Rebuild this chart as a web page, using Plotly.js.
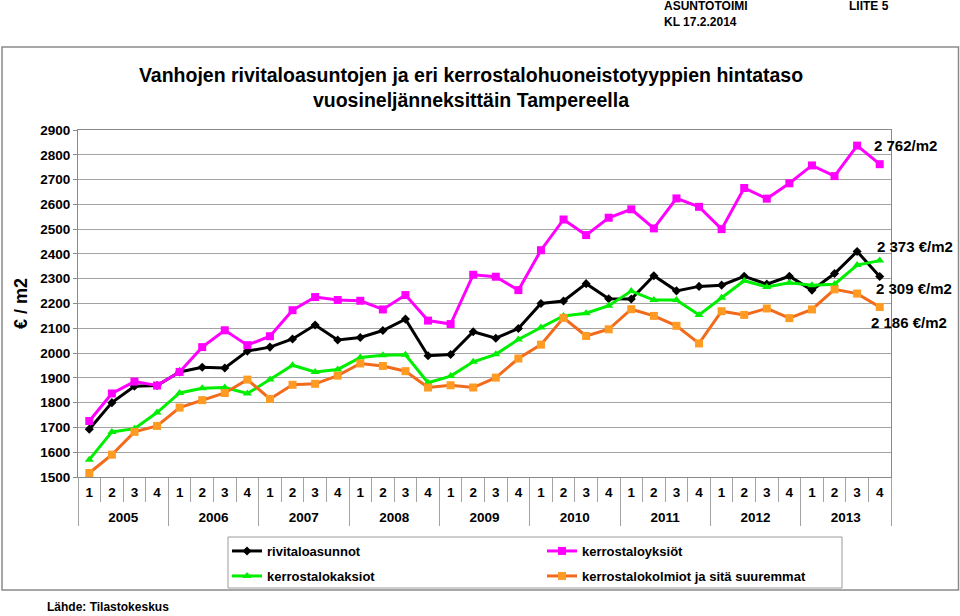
<!DOCTYPE html>
<html>
<head>
<meta charset="utf-8">
<script src="https://cdn.plot.ly/plotly-3.0.1.min.js"></script>
<style>
  html, body { margin: 0; padding: 0; background: #fff; }
  #chart { width: 960px; height: 616px; }
</style>
</head>
<body>
<div id="chart"></div>
<script>
// ---- data ----
const years = ['2005','2006','2007','2008','2009','2010','2011','2012','2013'];
const quarters = ['1','2','3','4'];
const seriesNames = ['rivitaloasunnot','kerrostaloyksiöt','kerrostalokaksiot','kerrostalokolmiot ja sitä suuremmat'];
const rivitaloasunnot = [1693,1800,1866,1869, 1924,1943,1940,2008, 2024,2057,2113,2053, 2063,2091,2137,1989, 1994,2086,2060,2099, 2200,2210,2280,2219, 2218,2312,2251,2269, 2274,2310,2278,2310, 2254,2321,2410,2309];
const kerrostaloyksiot = [1726,1837,1885,1869, 1924,2024,2092,2032, 2068,2173,2226,2214, 2211,2176,2234,2131, 2117,2316,2308,2254, 2415,2539,2476,2546, 2580,2503,2624,2590, 2500,2666,2623,2685, 2757,2714,2837,2762];
const kerrostalokaksiot = [1570,1682,1695,1760, 1839,1858,1861,1837, 1893,1951,1924,1934, 1982,1991,1993,1880, 1907,1965,1995,2055, 2103,2150,2161,2191, 2250,2214,2214,2154, 2223,2292,2267,2284, 2274,2278,2355,2373];
const kerrostalokolmiot = [1516,1590,1682,1706, 1780,1810,1839,1893, 1815,1872,1876,1909, 1958,1948,1927,1861, 1870,1861,1901,1978, 2034,2142,2069,2096, 2177,2150,2110,2039, 2169,2154,2180,2141, 2176,2257,2240,2186];
const endLabels = ['2 309 €/m2','2 762/m2','2 373 €/m2','2 186 €/m2'];

// ---- layout geometry (pixels) ----
const W = 960, H = 616;
const L = 78, R = 891, T = 130, B = 477;
const px = x => (x - L) / (R - L);
const py = y => (B - y) / (B - T);

// two-level category axis built from years x quarters
const xYear = [], xQ = [];
years.forEach(y => quarters.forEach(q => { xYear.push(y); xQ.push(q); }));
const n = xQ.length;

const FONT = 'Liberation Sans, Arial, sans-serif';
const GRID = '#a3a3a3';
const AXIS = '#8a8a8a';
// invisible tall spacer: widens the gap between quarter row and year row
const SPACER = '<span style="font-size:23px">&nbsp;</span>';

const styles = [
  {line: '#000000', marker: '#000000', symbol: 'diamond', size: 7},
  {line: '#ff00ff', marker: '#ff00ff', symbol: 'square', size: 8},
  {line: '#00ee00', marker: '#00ee00', symbol: 'triangle-up', size: 8},
  {line: '#f26a1b', marker: '#ff9a22', symbol: 'square', size: 8}
];
const values = [rivitaloasunnot, kerrostaloyksiot, kerrostalokaksiot, kerrostalokolmiot];

const traces = values.map((v, k) => ({
  type: 'scatter', mode: 'lines+markers', name: seriesNames[k],
  x: [xYear, xQ], y: v,
  line: {color: styles[k].line, width: 3},
  marker: {color: styles[k].marker, symbol: styles[k].symbol, size: styles[k].size},
  legend: k < 2 ? 'legend' : 'legend2',
  cliponaxis: false
}));

const labelY = [2262, 2839, 2432, 2125];
const labelX = [874, 872, 875, 869];
const annotations = endLabels.map((t, k) => ({
  text: '<b>' + t + '</b>', xref: 'paper', yref: 'y', x: px(labelX[k]), y: labelY[k],
  xanchor: 'left', yanchor: 'middle', showarrow: false,
  font: {family: FONT, size: 15, color: '#000'}
}));
annotations.push(
  {text: '<b>ASUNTOTOIMI</b>', xref: 'paper', yref: 'paper', x: px(662), y: py(6), xanchor: 'left', yanchor: 'middle', showarrow: false, font: {family: FONT, size: 12, color: '#000'}},
  {text: '<b>KL 17.2.2014</b>', xref: 'paper', yref: 'paper', x: px(662), y: py(22), xanchor: 'left', yanchor: 'middle', showarrow: false, font: {family: FONT, size: 12, color: '#000'}},
  {text: '<b>LIITE 5</b>', xref: 'paper', yref: 'paper', x: px(847), y: py(6), xanchor: 'left', yanchor: 'middle', showarrow: false, font: {family: FONT, size: 12, color: '#000'}},
  {text: '<b>Lähde: Tilastokeskus</b>', xref: 'paper', yref: 'paper', x: px(45), y: py(607), xanchor: 'left', yanchor: 'middle', showarrow: false, font: {family: FONT, size: 12, color: '#000'}}
);

const legendCommon = {
  orientation: 'h', xanchor: 'left', yanchor: 'top', xref: 'paper', yref: 'paper',
  borderwidth: 0, bgcolor: 'rgba(0,0,0,0)',
  entrywidth: 270, entrywidthmode: 'pixels',
  font: {family: FONT, size: 13, color: '#000', weight: 'bold'}
};

const layout = {
  width: W, height: H,
  margin: {l: L, r: W - R, t: T, b: H - B, pad: 0},
  paper_bgcolor: '#fff', plot_bgcolor: '#fff',
  font: {family: FONT, color: '#000'},
  title: {
    text: '<b>Vanhojen rivitaloasuntojen ja eri kerrostalohuoneistotyyppien hintataso<br>vuosineljänneksittäin Tampereella</b>',
    x: 471 / W, xanchor: 'center', xref: 'container',
    y: 1 - 82 / H, yanchor: 'middle', yref: 'container',
    font: {family: FONT, size: 19.5, color: '#000'}
  },
  xaxis: {
    type: 'multicategory', range: [-0.5, n - 0.5],
    showgrid: false, zeroline: false,
    ticks: 'outside', tickson: 'boundaries', ticklen: 24, tickcolor: GRID, tickwidth: 1,
    ticklabelstandoff: 3, tickangle: 0,
    tickprefix: SPACER, ticksuffix: SPACER,
    showdividers: true, dividercolor: GRID, dividerwidth: 1,
    showline: true, mirror: true, linecolor: AXIS, linewidth: 1,
    tickfont: {family: FONT, size: 13.5, color: '#000', weight: 'bold'},
    automargin: false
  },
  yaxis: {
    range: [1500, 2900], dtick: 100, tick0: 1500,
    showgrid: true, gridcolor: GRID, gridwidth: 1, zeroline: false,
    showline: true, mirror: true, linecolor: AXIS, linewidth: 1,
    ticks: 'outside', ticklen: 4, tickcolor: AXIS,
    tickfont: {family: FONT, size: 13.5, color: '#000', weight: 'bold'},
    title: {text: '<b>€ / m2</b>', standoff: 7, font: {family: FONT, size: 18, color: '#000'}},
    automargin: false
  },
  showlegend: true,
  legend: Object.assign({}, legendCommon, {x: px(227), y: py(536)}),
  legend2: Object.assign({}, legendCommon, {x: px(227), y: py(561)}),
  annotations: annotations,
  shapes: [
    {type: 'rect', xref: 'paper', yref: 'paper', x0: px(2), x1: px(958.5), y0: py(47), y1: py(590),
     line: {color: AXIS, width: 1.5}, fillcolor: 'rgba(0,0,0,0)', layer: 'below'},
    {type: 'rect', xref: 'paper', yref: 'paper', x0: px(228), x1: px(842), y0: py(537), y1: py(588),
     line: {color: '#9a9a9a', width: 1}, fillcolor: 'rgba(0,0,0,0)', layer: 'below'}
  ]
};

Plotly.newPlot('chart', traces, layout, {staticPlot: true, displayModeBar: false});
</script>
</body>
</html>
